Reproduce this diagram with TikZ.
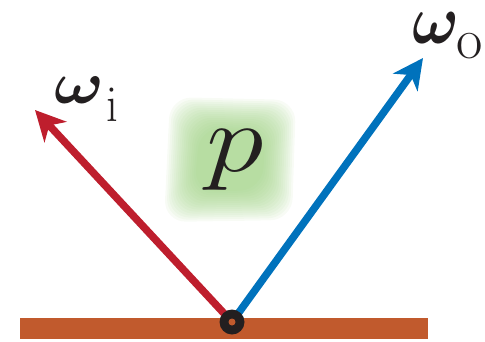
\documentclass[tikz,border=0pt]{standalone}
\usepackage{amsmath,bm}
\usetikzlibrary{arrows.meta}
\definecolor{rayred}{RGB}{190,30,45}
\definecolor{rayblue}{RGB}{0,114,188}
\definecolor{surf}{RGB}{193,90,45}
\definecolor{dotblack}{RGB}{35,31,32}
\definecolor{blobgreen}{RGB}{150,205,120}
\begin{document}
\begin{tikzpicture}[x=1pt,y=-1pt,
  ray/.style={line width=7.5pt, -{Stealth[length=30pt,width=30pt,inset=9pt]}},
  lbl/.style={inner sep=0pt, outer sep=0pt, text=dotblack, font=\Huge}]
\useasboundingbox (0,0) rectangle (485,341);
% green halo behind p
\foreach \r in {0,2,...,30}{
  \fill[blobgreen, opacity=0.07, rounded corners=22pt]
    (170+\r,97+\r) -- (296-\r,100+\r) -- (292-\r,220-\r) -- (164+\r,222-\r) -- cycle;
}
% surface
\fill[surf] (20,318) rectangle (428,339);
% point
\coordinate (o) at (232,322);
\coordinate (wi) at (35,110);
\coordinate (wo) at (423,58);
\draw[ray, rayred] (o) -- (wi);
\draw[ray, rayblue] (o) -- (wo);
\node[circle, fill=dotblack, minimum size=25pt, inner sep=0pt] (pt) at (o) {};
\node[circle, fill=surf, minimum size=7pt, inner sep=0pt] (ptin) at (o) {};
% labels
\node[lbl, xscale=2.65, yscale=2.4] (li) at (79,90) {$\bm{\omega}$};
\node[lbl, xscale=1.9, yscale=2.05] (lisub) at (112.5,104.5) {$\mathrm{i}$};
\node[lbl, xscale=2.5, yscale=2.8] (lo) at (435.5,28) {$\bm{\omega}$};
\node[lbl, xscale=2.3, yscale=2.3] (losub) at (470,46) {$\mathrm{o}$};
\node[lbl, xscale=4.7, yscale=3.9] (p) at (235,160.5) {$p$};
\end{tikzpicture}
\end{document}
